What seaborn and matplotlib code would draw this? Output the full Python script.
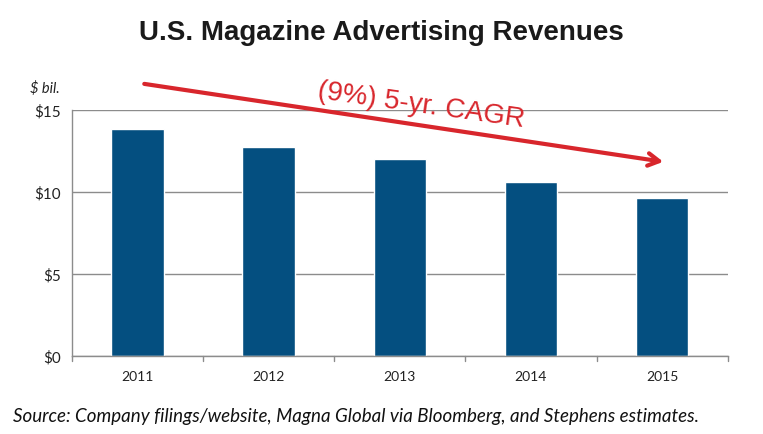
import matplotlib
matplotlib.use('Agg')
import matplotlib.pyplot as plt
import seaborn as sns
import pandas as pd

# data
years = ['2011', '2012', '2013', '2014', '2015']
revenues = [13.8, 12.7, 12.0, 10.6, 9.6]
y_ticks = [0, 5, 10, 15]
y_labels = ['$0', '$5', '$10', '$15']

df = pd.DataFrame({'year': years, 'revenue': revenues})

sns.set_style('white')
plt.rcParams['font.family'] = ['Lato', 'DejaVu Sans']

fig = plt.figure(figsize=(7.63, 4.35), dpi=100)
ax = fig.add_axes([0.0944, 0.18, 0.8593, 0.5655])

sns.barplot(data=df, x='year', y='revenue', color='#044f80', width=0.4,
            saturation=1, ax=ax)

ax.set_ylim(0, 15)
ax.set_xlim(-0.5, 4.5)
ax.set_yticks(y_ticks)
ax.set_yticklabels(y_labels, fontsize=11, color='#222222')
ax.tick_params(axis='x', labelsize=10, colors='#222222', length=0, pad=10)
ax.grid(axis='y', color='#8c8c8c', linewidth=1)
ax.set_axisbelow(True)
ax.set_xlabel('')
ax.set_ylabel('')
for s in ['top', 'right']:
    ax.spines[s].set_visible(False)
for s in ['left', 'bottom']:
    ax.spines[s].set_color('#8c8c8c')
    ax.spines[s].set_linewidth(1)
ax.tick_params(axis='y', length=4, color='#8c8c8c', pad=4)

# boundary ticks under the x axis
for b in [-0.5, 0.5, 1.5, 2.5, 3.5, 4.5]:
    ax.plot([b, b], [0, -0.3], color='#8c8c8c', lw=1, clip_on=False)

# trend arrow and label
ax.annotate('', xy=(4.03, 11.8), xytext=(0.03, 16.6),
            arrowprops=dict(arrowstyle='->,head_length=0.8,head_width=0.45',
                            color='#d8262c', lw=3),
            annotation_clip=False)
ax.text(2.16, 15.3, '(9%) 5-yr. CAGR', rotation=-8, color='#d8262c',
        fontsize=20, family='Liberation Sans', ha='center', va='center')

fig.text(0.5, 0.925, 'U.S. Magazine Advertising Revenues', ha='center',
         va='center', fontsize=20, fontweight='bold', family='Liberation Sans',
         color='#1a1a1a')
fig.text(0.039, 0.797, '$ bil.', fontstyle='italic', fontsize=10.5,
         ha='left', va='center', color='#222222')
fig.text(0.017, 0.043, 'Source: Company filings/website, Magna Global via Bloomberg, and Stephens estimates.',
         fontstyle='italic', fontsize=13.5, ha='left', va='center', color='#111111')

fig.savefig('out.png', dpi=100)
